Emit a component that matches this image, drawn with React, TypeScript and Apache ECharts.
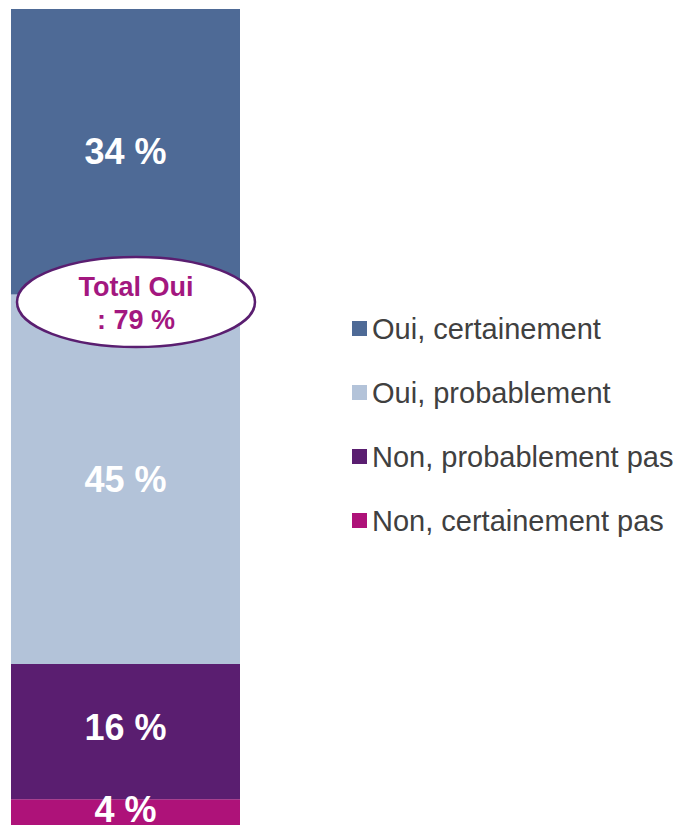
import React, { useEffect, useRef } from "react";
import * as echarts from "echarts";

const categories = ["Total"];
const seriesNames = ["Oui, certainement", "Oui, probablement", "Non, probablement pas", "Non, certainement pas"];
const ouiCertainement = [34.4];
const ouiProbablement = [44.5];
const nonProbablementPas = [16.3];
const nonCertainementPas = [4.0];
const colors = ["#4e6a96", "#b3c3d9", "#5a1e70", "#ae1279"];

export default function App() {
  const ref = useRef<HTMLDivElement>(null);
  useEffect(() => {
    if (!ref.current) return;
    const chart = echarts.init(ref.current, null, { renderer: "svg" });
    const total = ouiCertainement[0] + ouiProbablement[0] + nonProbablementPas[0] + nonCertainementPas[0];
    const totalOui = Math.round(ouiCertainement[0] + ouiProbablement[0]);
    const font = "'Liberation Sans', Arial, sans-serif";
    const lbl = (offsetY = 0) => ({
      show: true,
      position: "inside" as const,
      offset: [0, offsetY],
      color: "#ffffff",
      fontFamily: font,
      fontWeight: "bold" as const,
      fontSize: 36,
      formatter: (p: any) => `${Math.round(p.value)} %`,
    });
    const mk = (name: string, data: number[], color: string, offY = 0) => ({
      name,
      type: "bar" as const,
      stack: "s",
      data,
      barWidth: 229,
      itemStyle: { color },
      label: lbl(offY),
    });
    chart.setOption({
      animation: false,
      grid: { left: 11, top: 9, width: 229, height: 816 },
      xAxis: { type: "category", data: categories, show: false },
      yAxis: { type: "value", min: 0.9, max: total, show: false },
      legend: {
        orient: "vertical",
        left: 347,
        top: 309,
        itemWidth: 15,
        itemHeight: 15,
        itemGap: 35,
        icon: "rect",
        data: seriesNames,
        textStyle: { fontFamily: font, fontSize: 29, color: "#404040", lineHeight: 29 },
      },
      series: [
        mk(seriesNames[3], nonCertainementPas, colors[3], -3),
        mk(seriesNames[2], nonProbablementPas, colors[2], -4),
        mk(seriesNames[1], ouiProbablement, colors[1]),
        mk(seriesNames[0], ouiCertainement, colors[0]),
      ],
      graphic: [
        {
          type: "ellipse",
          shape: { cx: 136, cy: 302, rx: 119, ry: 45 },
          style: { fill: "#ffffff", stroke: "#5a1e70", lineWidth: 2.5 },
          z: 100,
        },
        {
          type: "text",
          x: 136,
          y: 303,
          z: 101,
          style: {
            text: `Total Oui\n: ${totalOui} %`,
            fill: "#a3177f",
            fontFamily: font,
            fontWeight: "bold",
            fontSize: 27,
            lineHeight: 33,
            align: "center",
            verticalAlign: "middle",
          },
        },
      ],
    });
    return () => chart.dispose();
  }, []);
  return <div ref={ref} style={{ position: "absolute", left: 0, top: 0, width: 679, height: 825 }} />;
}
